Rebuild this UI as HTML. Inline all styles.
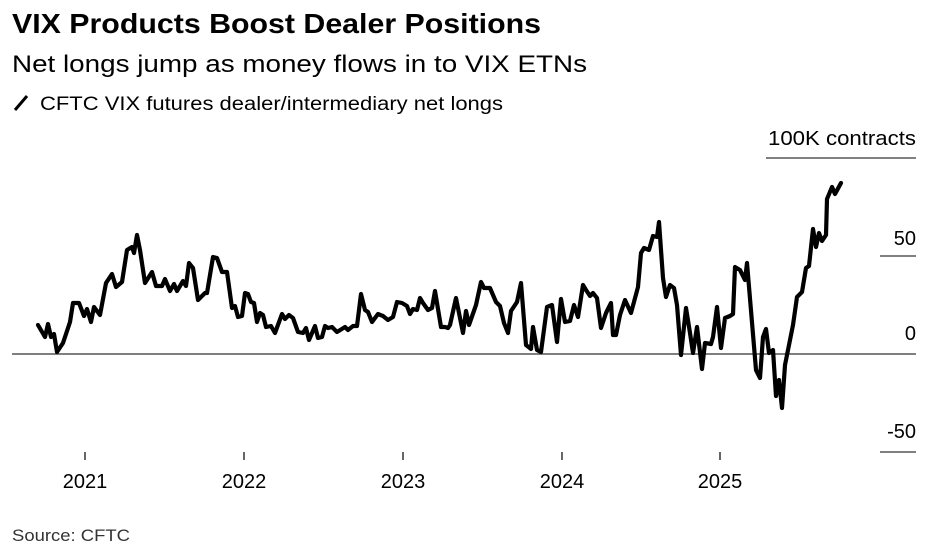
<!DOCTYPE html>
<html><head><meta charset="utf-8"><style>
body{margin:0;background:#fff;width:944px;height:554px;overflow:hidden;font-family:"Liberation Sans",sans-serif;color:#000}
</style></head><body>
<svg width="944" height="554" xmlns="http://www.w3.org/2000/svg" font-family="Liberation Sans, sans-serif">
<text x="12" y="33" font-size="28" font-weight="bold" textLength="529" lengthAdjust="spacingAndGlyphs">VIX Products Boost Dealer Positions</text>
<text x="12" y="72" font-size="24" textLength="575" lengthAdjust="spacingAndGlyphs">Net longs jump as money flows in to VIX ETNs</text>
<line x1="15" y1="110" x2="27" y2="96" stroke="#000" stroke-width="3"/>
<text x="40" y="110" font-size="19" textLength="463" lengthAdjust="spacingAndGlyphs">CFTC VIX futures dealer/intermediary net longs</text>
<text x="916" y="145" font-size="20" text-anchor="end" textLength="148" lengthAdjust="spacingAndGlyphs">100K contracts</text>
<line x1="766" y1="158" x2="916" y2="158" stroke="#000" stroke-width="1"/>
<text x="916" y="245" font-size="20" text-anchor="end">50</text>
<line x1="880" y1="256" x2="916" y2="256" stroke="#000" stroke-width="1"/>
<text x="916" y="340" font-size="20" text-anchor="end">0</text>
<line x1="12" y1="354" x2="916" y2="354" stroke="#555" stroke-width="1.5"/>
<text x="916" y="438" font-size="20" text-anchor="end">-50</text>
<line x1="880" y1="452" x2="916" y2="452" stroke="#000" stroke-width="1"/>
<g stroke="#000" stroke-width="1.2">
<line x1="85" y1="452" x2="85" y2="460"/><line x1="244" y1="452" x2="244" y2="460"/><line x1="403" y1="452" x2="403" y2="460"/><line x1="562" y1="452" x2="562" y2="460"/><line x1="720" y1="452" x2="720" y2="460"/>
</g>
<g font-size="20" text-anchor="middle">
<text x="85" y="488">2021</text><text x="244" y="488">2022</text><text x="403" y="488">2023</text><text x="562" y="488">2024</text><text x="720" y="488">2025</text>
</g>
<text x="12" y="541" font-size="17" fill="#333" textLength="118" lengthAdjust="spacingAndGlyphs">Source: CFTC</text>
<polyline fill="none" stroke="#000" stroke-width="4.2" stroke-linejoin="round" stroke-linecap="round" points="38,325 45,337 48,324 51,337 54,334 57,352 63,343 70,322 73,303 79,303 84,316 87,309 91,322 94,307 100,315 106,283 112,274 116,287 122,282 127,250 132,247 134,253 137,235 140,250 145,283 152,272 156,286 162,286 165,279 170,291 174,284 177,291 183,281 186,286 189,263 193,268 198,300 205,293 207,293 213,257 217,258 222,272 227,272 232,308 235,306 238,317 242,316 245,293 248,294 251,302 254,303 257,322 260,313 263,315 266,327 271,326 275,333 282,314 285,319 289,315 293,318 298,332 303,333 306,328 309,340 315,326 318,338 322,337 325,326 328,328 332,327 337,332 345,327 348,330 353,326 357,326 361,294 365,310 368,312 372,322 378,314 383,316 388,320 393,317 397,302 402,303 407,306 410,314 413,309 417,310 420,298 423,303 428,310 432,308 435,291 441,327 445,327 448,328 450,325 456,298 463,333 466,311 469,325 476,305 481,282 484,288 490,288 496,302 500,306 504,323 508,333 511,311 517,302 521,283 526,345 531,349 533,327 537,350 541,352 547,307 552,305 557,342 561,299 565,322 570,321 574,305 578,317 583,285 586,290 590,296 593,293 597,298 601,328 606,313 611,303 613,335 616,335 620,315 625,300 631,313 638,287 641,253 644,248 649,250 653,236 657,237 659,222 663,278 666,297 670,285 674,288 677,305 681,355 686,308 690,333 693,353 697,327 702,369 705,343 711,344 713,337 717,307 721,348 725,318 730,316 733,314 735,267 740,270 745,280 747,263 756,370 760,378 763,337 766,329 769,353 773,350 776,396 779,380 782,408 785,365 793,325 797,297 802,292 806,268 809,266 813,229 816,247 819,233 822,241 826,235 827,199 832,187 835,194 841,183"/>
</svg>
</body></html>
